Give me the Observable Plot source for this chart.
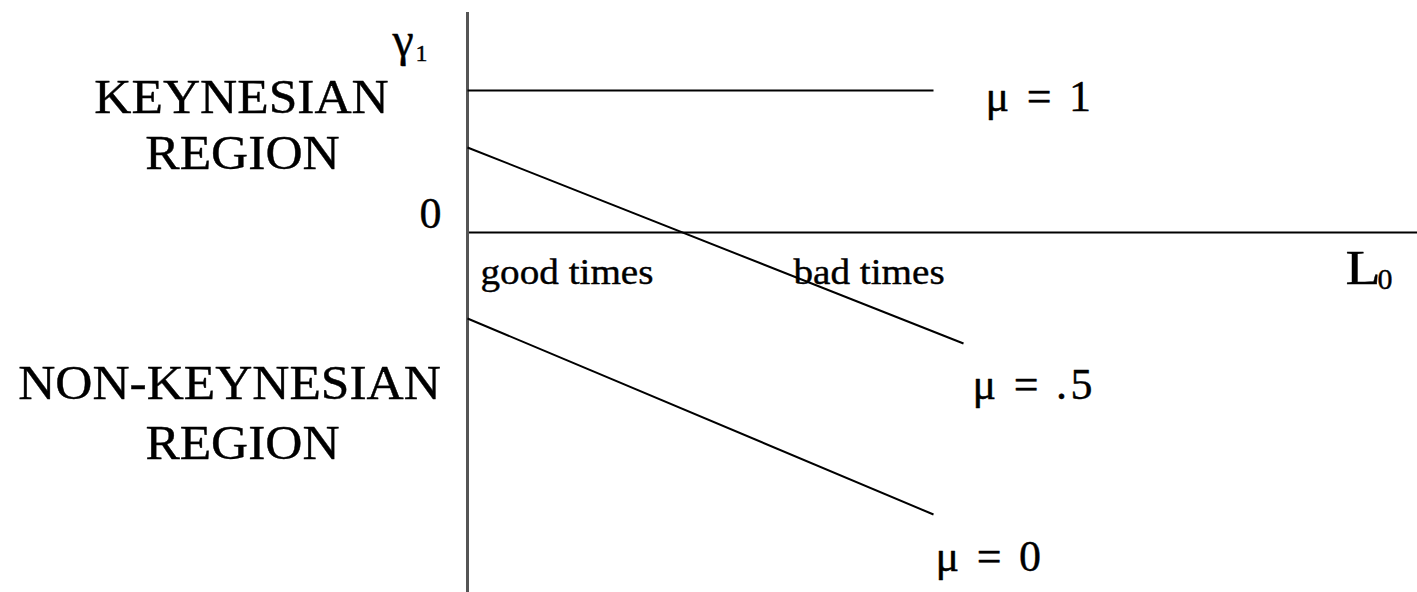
<!DOCTYPE html>
<html>
<head>
<meta charset="utf-8">
<script src="https://cdn.jsdelivr.net/npm/d3@7"></script>
<script src="https://cdn.jsdelivr.net/npm/@observablehq/plot@0.6"></script>
<style>
  html, body { margin: 0; padding: 0; background: #fff; }
  #chart svg { display: block; }
</style>
</head>
<body>
<div id="chart"></div>
<script>
// Series: the three γ1 schedules against L0, one per value of μ
const muLabels = ["μ = 1", "μ = .5", "μ = 0"];
const startX = [0, 0, 0];
const endX = [4.66, 4.96, 4.66];
const startY = [1.42, 0.85, -0.86];
const endY = [1.42, -1.11, -2.82];

// Axis extents
const xAxisEnd = 9.5;
const yAxisTop = 2.2;
const yAxisBottom = -3.6;

// Annotation texts
const keyTexts = ["KEYNESIAN", "REGION"];
const keyX = [-2.26, -2.25];
const keyY = [1.20, 0.64];
const nonKeyTexts = ["NON-KEYNESIAN", "REGION"];
const nonKeyX = [-2.38, -2.25];
const nonKeyY = [-1.66, -2.26];

const timeTexts = ["good times", "bad times"];
const timeX = [0.13, 3.26];
const timeY = [-0.51, -0.51];

const segments = muLabels.map((m, i) => ({mu: m, x1: startX[i], y1: startY[i], x2: endX[i], y2: endY[i]}));
const keyRows = keyTexts.map((t, i) => ({t, x: keyX[i], y: keyY[i]}));
const nonKeyRows = nonKeyTexts.map((t, i) => ({t, x: nonKeyX[i], y: nonKeyY[i]}));
const times = timeTexts.map((t, i) => ({t, x: timeX[i], y: timeY[i]}));
const muLabelPos = [{t: muLabels[0], x: 5.18, y: 1.22}, {t: muLabels[1], x: 5.05, y: -1.66}, {t: muLabels[2], x: 4.68, y: -3.38}];

const font = "'Liberation Serif', 'Times New Roman', serif";
const base = {fill: "black", stroke: "black", strokeWidth: 0.4, fontFamily: font, lineAnchor: "bottom"};

const chart = Plot.plot({
  width: 1417,
  height: 592,
  marginTop: 0, marginRight: 0, marginBottom: 0, marginLeft: 0,
  x: {domain: [-4.67, 9.5], range: [0, 1417], axis: null},
  y: {domain: [-3.6, 2.32], range: [592, 0], axis: null},
  style: {background: "white"},
  marks: [
    Plot.ruleY([0], {x1: 0, x2: xAxisEnd, stroke: "black", strokeWidth: 2}),
    Plot.ruleX([0], {y1: yAxisTop, y2: yAxisBottom, stroke: "#555", strokeWidth: 3}),
    Plot.link(segments, {x1: "x1", y1: "y1", x2: "x2", y2: "y2", stroke: "black", strokeWidth: 2}),
    Plot.text(keyRows, {...base, x: "x", y: "y", text: "t", textAnchor: "middle", fontSize: 48, className: "lbl-key"}),
    Plot.text(nonKeyRows, {...base, x: "x", y: "y", text: "t", textAnchor: "middle", fontSize: 48, className: "lbl-nonkey"}),
    Plot.text(times, {...base, x: "x", y: "y", text: "t", textAnchor: "start", fontSize: 36, className: "lbl-times"}),
    Plot.text(muLabelPos, {...base, x: "x", y: "y", text: "t", textAnchor: "start", fontSize: 44, className: "lbl-mu"}),
    Plot.text(["0"], {...base, x: -0.37, y: 0.05, textAnchor: "middle", fontSize: 44}),
    Plot.text(["γ"], {...base, x: -0.75, y: 1.77, textAnchor: "start", fontSize: 48}),
    Plot.text(["1"], {...base, x: -0.52, y: 1.72, textAnchor: "start", fontSize: 24}),
    Plot.text(["L"], {...base, x: 8.78, y: -0.51, textAnchor: "start", fontSize: 48, className: "lbl-L"}),
    Plot.text(["0"], {...base, x: 9.10, y: -0.56, textAnchor: "start", fontSize: 30})
  ]
});
document.getElementById("chart").appendChild(chart);
const svg = d3.select(chart);
function stretch(sel, factor) {
  svg.selectAll(sel).each(function () {
    const w = this.getComputedTextLength();
    this.setAttribute("textLength", (w * factor).toFixed(1));
    this.setAttribute("lengthAdjust", "spacingAndGlyphs");
  });
}
stretch(".lbl-key text", 1.072);
stretch(".lbl-nonkey text", 1.071);
stretch(".lbl-times text", 1.088);
stretch(".lbl-L text", 1.2);
svg.selectAll(".lbl-mu text").style("letter-spacing", "3.3px");
</script>
</body>
</html>
